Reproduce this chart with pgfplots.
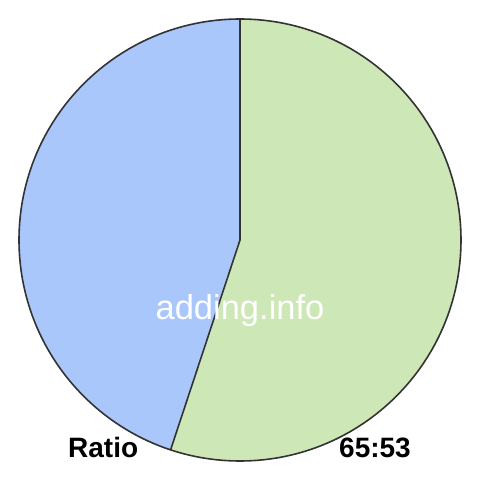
\documentclass[border=0pt]{standalone}
\usepackage{pgfplots}
\pgfplotsset{compat=1.18}
\usepackage{fontspec}
\setmainfont{Liberation Sans}
\definecolor{pieblue}{HTML}{A9C7FB}
\definecolor{piegreen}{HTML}{CDE7B7}
\definecolor{edge}{HTML}{333333}

% the two parts of the ratio
\def\partA{65}
\def\partB{53}

\begin{document}
\begin{tikzpicture}
    \begin{axis}[%
        hide axis,
        scale only axis,
        width = 480pt,
        height = 480pt,
        xmin = -240, xmax = 240,
        ymin = -240, ymax = 240,
        clip = false,
    ]
    \pgfmathsetmacro\angA{\partA/(\partA+\partB)*360}
    \pgfmathsetmacro\endA{90-\angA}
    \def\R{221}

    % keep the full square as bounding box
    \path (axis cs:-240,-240) rectangle (axis cs:240,240);

    % green slice (65), clockwise from the top
    \fill[piegreen] (axis cs:0,0) -- (axis cs:0,\R)
        arc[start angle=90, end angle=\endA, radius=\R pt] -- cycle;
    % blue slice (53)
    \fill[pieblue] (axis cs:0,0) -- (axis cs:0,\R)
        arc[start angle=90, end angle=\endA+360, radius=\R pt] -- cycle;

    % outlines
    \draw[edge, line width=1.6pt] (axis cs:0,0) circle[radius=\R pt];
    \draw[edge, line width=1.6pt] (axis cs:0,\R) -- (axis cs:0,0)
        -- ++(\endA:\R pt);

    \node[white, anchor=base, inner sep=0pt] at (axis cs:0,-80)
        {\fontsize{34.5}{40}\selectfont adding.info};
    \node[black, anchor=base west, inner sep=0pt] at (axis cs:-172,-217)
        {\fontsize{28}{34}\selectfont\bfseries Ratio};
    \node[black, anchor=base east, inner sep=0pt] at (axis cs:171,-217)
        {\fontsize{28}{34}\selectfont\bfseries \partA:\partB};
    \end{axis}
\end{tikzpicture}
\end{document}
